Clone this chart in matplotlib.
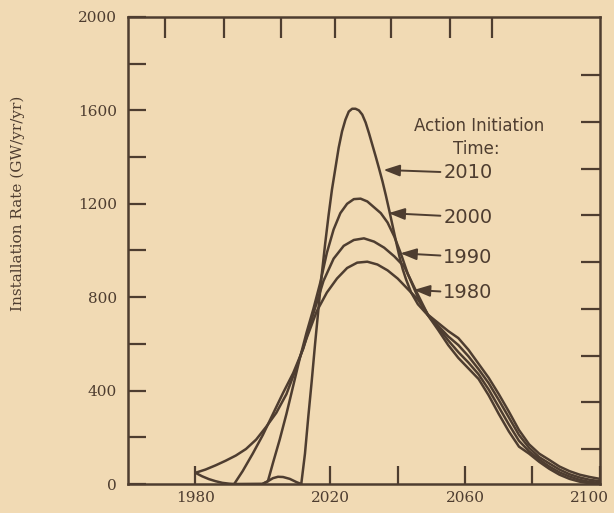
import matplotlib
matplotlib.use("Agg")
import matplotlib.pyplot as plt
from matplotlib.transforms import ScaledTranslation

# --- data (installation rate, GW/yr/yr) ---
base_years = [1980, 1982, 1984, 1986, 1988, 1990, 1991.5, 2000, 2001.5, 2003, 2004.5, 2006, 2008, 2010, 2011.4]
base_vals = [48, 33, 21, 12, 5, 1.5, 0, 1, 12, 25, 31, 30, 22, 8, 0]

yr_1980 = [1980, 1983, 1986, 1989, 1992, 1995, 1998, 2001, 2004, 2007, 2010, 2013, 2016, 2019, 2022,
           2025, 2028, 2031, 2034, 2037, 2040, 2043, 2046, 2049, 2052, 2055, 2058, 2061, 2064, 2067,
           2070, 2073, 2076, 2079, 2082, 2085, 2088, 2091, 2094, 2097, 2100]
val_1980 = [48, 62, 80, 100, 122, 150, 190, 245, 305, 385, 500, 625, 740, 820, 880,
            925, 948, 952, 940, 915, 880, 835, 790, 725, 690, 655, 625, 575, 515, 455,
            385, 310, 231, 170, 130, 103, 75, 55, 40, 30, 22]

yr_1990 = [1991.5, 1994, 1997, 2000, 2003, 2006, 2009, 2012, 2015, 2018, 2021, 2024, 2027, 2030,
           2033, 2036, 2039, 2042, 2045, 2049, 2052, 2055, 2058, 2061, 2064, 2067, 2070, 2073,
           2076, 2079, 2082, 2085, 2088, 2091, 2094, 2097, 2100]
val_1990 = [0, 55, 130, 210, 300, 390, 475, 580, 730, 870, 965, 1020, 1045, 1052,
            1038, 1012, 975, 930, 840, 724, 678, 632, 595, 547, 492, 432, 360, 285,
            210, 155, 115, 88, 62, 42, 28, 18, 12]

yr_2000 = [2000, 2001.5, 2003, 2005, 2007, 2009, 2011, 2013, 2015, 2017, 2019, 2021, 2023, 2025,
           2027, 2029, 2031, 2033, 2035, 2037, 2039, 2041, 2043, 2046, 2049, 2052, 2055, 2058,
           2061, 2064, 2067, 2070, 2073, 2076, 2079, 2082, 2085, 2088, 2091, 2094, 2097, 2100]
val_2000 = [1, 12, 90, 190, 300, 420, 540, 650, 750, 860, 990, 1090, 1160, 1200,
            1220, 1222, 1210, 1185, 1160, 1120, 1060, 985, 900, 800, 723, 670, 615, 565,
            520, 470, 405, 330, 255, 185, 140, 105, 75, 50, 32, 18, 9, 5]

yr_2010 = [2011.4, 2012.5, 2013.5, 2014.5, 2015.5, 2016.5, 2017.5, 2018.5, 2019.5, 2020.5, 2021.5,
           2022.5, 2023.5, 2024.5, 2025.5, 2026.5, 2027.5, 2028.5, 2029.5, 2030.5, 2031.5, 2032.5,
           2033.5, 2034.5, 2035.5, 2036.5, 2037.5, 2038.5, 2039.5, 2040.5, 2041.5, 2042.5, 2044,
           2046, 2049, 2052, 2055, 2058, 2061, 2064, 2067, 2070, 2073, 2076, 2079, 2082, 2085,
           2088, 2091, 2094, 2097, 2100]
val_2010 = [0, 130, 290, 440, 600, 750, 900, 1030, 1150, 1260, 1350,
            1440, 1510, 1560, 1595, 1607, 1607, 1600, 1582, 1548, 1502, 1452,
            1402, 1350, 1296, 1236, 1172, 1106, 1040, 976, 920, 876, 820,
            770, 722, 660, 595, 540, 495, 450, 380, 300, 225, 160, 130, 95, 65,
            40, 22, 10, 3, 0]

initiation = ["2010", "2000", "1990", "1980"]
label_y = [1332, 1143, 972, 818]          # label positions (GW/yr/yr)
arrow_tip_x = [2035.8, 2037.3, 2040.8, 2044.8]
arrow_tip_y = [1345, 1160, 988, 831]

BG = "#f1dab4"
INK = "#4e3d30"

plt.rcParams["font.family"] = "DejaVu Serif"

fig = plt.figure(figsize=(6.14, 5.13), dpi=100, facecolor=BG)
ax = fig.add_axes([0.2085, 0.0565, 0.7685, 0.9104], facecolor=BG)

for yr, v in [(base_years, base_vals), (yr_1980, val_1980), (yr_1990, val_1990),
              (yr_2000, val_2000), (yr_2010, val_2010)]:
    ax.plot(yr, v, color=INK, lw=1.8, solid_joinstyle="round", solid_capstyle="round")

ax.set_xlim(1960, 2100)
ax.set_ylim(0, 2000)
for s in ax.spines.values():
    s.set_color(INK)
    s.set_linewidth(1.8)

ax.set_xticks([1980, 2020, 2040, 2060, 2080, 2100])
ax.set_xticklabels(["1980", "2020", "", "2060", "", "2100"])
ax.set_yticks(range(0, 2001, 200))
ax.set_yticklabels([str(v) if v % 400 == 0 else "" for v in range(0, 2001, 200)])
ax.tick_params(axis="both", direction="in", length=13, width=1.6, color=INK,
               labelcolor=INK, labelsize=11)
ax.tick_params(axis="x", pad=5)
ax.tick_params(axis="y", pad=8)
last = ax.get_xticklabels()[-1]
last.set_transform(last.get_transform() + ScaledTranslation(-10 / 100, 0, fig.dpi_scale_trans))

# top and right tick marks (no labels), as in the scan
top = ax.secondary_xaxis("top")
top.set_xticks([1971, 1988.5, 2005.5, 2021.5, 2038, 2055.5, 2068])
top.set_xticklabels([])
top.tick_params(direction="in", length=15, width=1.6, color=INK)
top.spines["top"].set_visible(False)
right = ax.secondary_yaxis("right")
right.set_yticks([150, 350, 550, 750, 950, 1150, 1350, 1550, 1750])
right.set_yticklabels([])
right.tick_params(direction="in", length=14, width=1.6, color=INK)
right.spines["right"].set_visible(False)

fig.text(18 / 614, 1 - 203 / 513, "Installation Rate (GW/yr/yr)", rotation=90,
         ha="center", va="center", fontsize=11, color=INK)

# legend-like annotation
ax.text(2064.3, 1535, "Action Initiation", ha="center", va="center", fontsize=12,
        family="DejaVu Sans", color=INK)
ax.text(2063.3, 1436, "Time:", ha="center", va="center", fontsize=12,
        family="DejaVu Sans", color=INK)
for lab, ly, tx, ty in zip(initiation, label_y, arrow_tip_x, arrow_tip_y):
    ax.annotate(lab, xy=(tx, ty), xytext=(2053.5, ly), ha="left", va="center",
                fontsize=14, family="DejaVu Sans", color=INK,
                arrowprops=dict(arrowstyle="-|>,head_length=0.7,head_width=0.25",
                                color=INK, lw=1.4, shrinkA=0, shrinkB=0))

fig.savefig("out.png", dpi=100, facecolor=BG)
